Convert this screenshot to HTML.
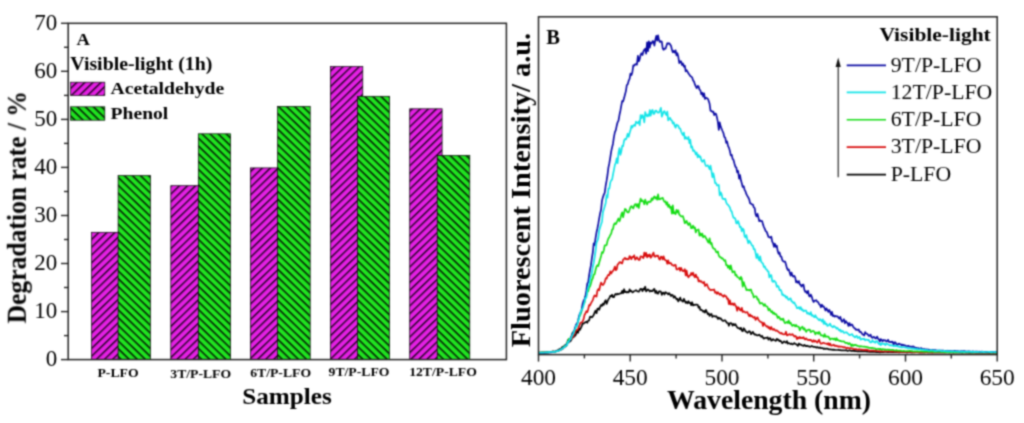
<!DOCTYPE html>
<html><head><meta charset="utf-8"><title>Figure</title>
<style>html,body{margin:0;padding:0;background:#fff;}svg{display:block;}text{font-family:"Liberation Serif",serif;fill:#000;}.b{font-weight:bold;}</style></head><body>
<svg width="1024" height="423" viewBox="0 0 1024 423">
<defs>
<pattern id="hm" width="12" height="5.6" patternUnits="userSpaceOnUse" patternTransform="rotate(-44)"><rect width="12" height="5.6" fill="#e420e4"/><rect width="12" height="1.3" fill="#0a000a"/></pattern>
<pattern id="hg" width="12" height="5.6" patternUnits="userSpaceOnUse" patternTransform="rotate(44)"><rect width="12" height="5.6" fill="#20e420"/><rect width="12" height="1.45" fill="#000a00"/></pattern>
<filter id="bl" filterUnits="userSpaceOnUse" x="0" y="0" width="1024" height="423" color-interpolation-filters="sRGB"><feConvolveMatrix order="5" kernelMatrix="0.00023 0.00332 0.00809 0.00332 0.00023 0.00332 0.04785 0.11640 0.04785 0.00332 0.00809 0.11640 0.28313 0.11640 0.00809 0.00332 0.04785 0.11640 0.04785 0.00332 0.00023 0.00332 0.00809 0.00332 0.00023" divisor="1" edgeMode="duplicate" preserveAlpha="true"/></filter>
</defs>
<g filter="url(#bl)">
<rect width="1024" height="423" fill="#fff"/>
<rect x="91.5" y="232.3" width="32.4" height="127.3" fill="url(#hm)" stroke="#000" stroke-width="0.7"/>
<rect x="118.1" y="175.6" width="32.3" height="184.0" fill="url(#hg)" stroke="#000" stroke-width="0.7"/>
<rect x="170.8" y="185.7" width="32.4" height="173.9" fill="url(#hm)" stroke="#000" stroke-width="0.7"/>
<rect x="198.3" y="133.8" width="32.3" height="225.8" fill="url(#hg)" stroke="#000" stroke-width="0.7"/>
<rect x="250.4" y="167.9" width="32.4" height="191.7" fill="url(#hm)" stroke="#000" stroke-width="0.7"/>
<rect x="277.6" y="106.4" width="32.6" height="253.2" fill="url(#hg)" stroke="#000" stroke-width="0.7"/>
<rect x="330.4" y="66.5" width="32.4" height="293.1" fill="url(#hm)" stroke="#000" stroke-width="0.7"/>
<rect x="357.6" y="96.3" width="32.0" height="263.3" fill="url(#hg)" stroke="#000" stroke-width="0.7"/>
<rect x="409.7" y="108.8" width="32.4" height="250.8" fill="url(#hm)" stroke="#000" stroke-width="0.7"/>
<rect x="437.2" y="155.4" width="32.6" height="204.2" fill="url(#hg)" stroke="#000" stroke-width="0.7"/>
<rect x="68.2" y="23.3" width="438.2" height="336.3" fill="none" stroke="#222" stroke-width="1.5"/>
<line x1="61.0" y1="359.6" x2="68.2" y2="359.6" stroke="#222" stroke-width="1.4"/>
<text transform="translate(57.2,366.2) scale(0.978,1.0)" font-size="23.5" text-anchor="end">0</text>
<line x1="64.0" y1="335.6" x2="68.2" y2="335.6" stroke="#222" stroke-width="1.4"/>
<line x1="61.0" y1="311.6" x2="68.2" y2="311.6" stroke="#222" stroke-width="1.4"/>
<text transform="translate(57.2,318.2) scale(0.978,1.0)" font-size="23.5" text-anchor="end">10</text>
<line x1="64.0" y1="287.5" x2="68.2" y2="287.5" stroke="#222" stroke-width="1.4"/>
<line x1="61.0" y1="263.5" x2="68.2" y2="263.5" stroke="#222" stroke-width="1.4"/>
<text transform="translate(57.2,270.1) scale(0.978,1.0)" font-size="23.5" text-anchor="end">20</text>
<line x1="64.0" y1="239.5" x2="68.2" y2="239.5" stroke="#222" stroke-width="1.4"/>
<line x1="61.0" y1="215.5" x2="68.2" y2="215.5" stroke="#222" stroke-width="1.4"/>
<text transform="translate(57.2,222.1) scale(0.978,1.0)" font-size="23.5" text-anchor="end">30</text>
<line x1="64.0" y1="191.5" x2="68.2" y2="191.5" stroke="#222" stroke-width="1.4"/>
<line x1="61.0" y1="167.4" x2="68.2" y2="167.4" stroke="#222" stroke-width="1.4"/>
<text transform="translate(57.2,174.0) scale(0.978,1.0)" font-size="23.5" text-anchor="end">40</text>
<line x1="64.0" y1="143.4" x2="68.2" y2="143.4" stroke="#222" stroke-width="1.4"/>
<line x1="61.0" y1="119.4" x2="68.2" y2="119.4" stroke="#222" stroke-width="1.4"/>
<text transform="translate(57.2,126.0) scale(0.978,1.0)" font-size="23.5" text-anchor="end">50</text>
<line x1="64.0" y1="95.4" x2="68.2" y2="95.4" stroke="#222" stroke-width="1.4"/>
<line x1="61.0" y1="71.3" x2="68.2" y2="71.3" stroke="#222" stroke-width="1.4"/>
<text transform="translate(57.2,77.9) scale(0.978,1.0)" font-size="23.5" text-anchor="end">60</text>
<line x1="64.0" y1="47.3" x2="68.2" y2="47.3" stroke="#222" stroke-width="1.4"/>
<line x1="61.0" y1="23.3" x2="68.2" y2="23.3" stroke="#222" stroke-width="1.4"/>
<text transform="translate(57.2,29.9) scale(0.978,1.0)" font-size="23.5" text-anchor="end">70</text>
<text class="b" transform="translate(118.0,377.0) scale(1.07,1.0)" font-size="12.8" text-anchor="middle">P-LFO</text>
<text class="b" transform="translate(200.7,378.0) scale(1.07,1.0)" font-size="12.8" text-anchor="middle">3T/P-LFO</text>
<text class="b" transform="translate(280.6,376.6) scale(1.07,1.0)" font-size="12.8" text-anchor="middle">6T/P-LFO</text>
<text class="b" transform="translate(359.0,376.2) scale(1.07,1.0)" font-size="12.8" text-anchor="middle">9T/P-LFO</text>
<text class="b" transform="translate(443.0,376.0) scale(1.07,1.0)" font-size="12.8" text-anchor="middle">12T/P-LFO</text>
<text class="b" transform="translate(287,404) scale(1.05,1.0)" font-size="24" text-anchor="middle">Samples</text>
<text class="b" transform="translate(25.8,207.2) rotate(-90) scale(0.908,1.0)" font-size="28.2" text-anchor="middle">Degradation rate / %</text>
<text class="b" transform="translate(76.5,45.2) scale(1.06,1.0)" font-size="17.5" text-anchor="start">A</text>
<text class="b" transform="translate(70.3,69.8) scale(1.079,1.0)" font-size="18.4" text-anchor="start">Visible-light (1h)</text>
<rect x="70.6" y="82.2" width="34.2" height="13.2" fill="url(#hm)" stroke="#000" stroke-width="0.7"/>
<text class="b" transform="translate(110.6,94.0) scale(1.143,1.0)" font-size="17.2" text-anchor="start">Acetaldehyde</text>
<rect x="70.6" y="106.8" width="34.2" height="13.4" fill="url(#hg)" stroke="#000" stroke-width="0.7"/>
<text class="b" transform="translate(110.6,118.6) scale(1.139,1.0)" font-size="17.2" text-anchor="start">Phenol</text>
<clipPath id="cb"><rect x="538.5" y="16.8" width="458.7" height="337.8"/></clipPath>
<g clip-path="url(#cb)" fill="none" stroke-linejoin="round" stroke-linecap="round">
<polyline points="538.5,352.7 539.4,352.7 540.3,352.8 541.3,352.6 542.2,352.6 543.1,352.4 544.0,352.5 544.9,352.4 545.9,352.5 546.8,352.3 547.7,352.3 548.6,352.1 549.5,352.0 550.5,352.0 551.4,352.1 552.3,351.6 553.2,351.3 554.1,351.9 555.1,351.6 556.0,351.2 556.9,350.8 557.8,350.2 558.7,349.7 559.7,349.0 560.6,348.9 561.5,348.1 562.4,346.9 563.3,346.7 564.3,345.9 565.2,345.1 566.1,346.0 567.0,344.4 567.9,340.1 568.9,342.1 569.8,341.6 570.7,340.8 571.6,339.3 572.5,335.7 573.5,337.3 574.4,335.4 575.3,335.7 576.2,333.6 577.1,330.6 578.1,332.8 579.0,328.6 579.9,329.9 580.8,328.2 581.7,326.1 582.7,323.2 583.6,323.7 584.5,322.7 585.4,322.5 586.3,321.6 587.3,322.8 588.2,320.5 589.1,320.5 590.0,316.8 590.9,316.7 591.9,317.3 592.8,316.4 593.7,315.0 594.6,312.6 595.5,310.7 596.5,313.2 597.4,309.0 598.3,308.3 599.2,309.8 600.1,306.9 601.1,304.9 602.0,305.9 602.9,303.6 603.8,304.8 604.7,302.0 605.7,300.2 606.6,303.9 607.5,301.5 608.4,299.3 609.3,298.2 610.3,295.9 611.2,296.3 612.1,294.8 613.0,297.2 613.9,297.2 614.9,294.6 615.8,293.9 616.7,294.7 617.6,293.7 618.5,294.1 619.5,293.7 620.4,293.3 621.3,293.3 622.2,290.8 623.1,293.2 624.1,289.2 625.0,292.2 625.9,291.6 626.8,292.5 627.7,291.8 628.7,292.4 629.6,289.4 630.5,291.2 631.4,290.8 632.3,292.4 633.3,292.0 634.2,291.0 635.1,290.7 636.0,290.2 636.9,290.9 637.9,291.5 638.8,291.7 639.7,290.3 640.6,288.8 641.5,289.0 642.5,291.2 643.4,288.5 644.3,289.5 645.2,286.7 646.1,291.4 647.1,290.3 648.0,289.4 648.9,290.1 649.8,291.5 650.7,290.6 651.7,291.2 652.6,291.1 653.5,289.5 654.4,288.9 655.3,292.9 656.3,290.9 657.2,293.5 658.1,293.6 659.0,291.4 659.9,291.3 660.9,291.6 661.8,294.9 662.7,292.8 663.6,292.6 664.5,294.5 665.5,292.2 666.4,293.0 667.3,293.3 668.2,294.4 669.1,293.1 670.1,294.4 671.0,296.0 671.9,294.8 672.8,295.2 673.7,297.7 674.7,296.1 675.6,297.7 676.5,299.4 677.4,298.8 678.3,301.5 679.3,299.3 680.2,297.6 681.1,300.5 682.0,300.6 682.9,301.6 683.9,298.9 684.8,300.9 685.7,302.8 686.6,301.9 687.5,303.3 688.5,301.2 689.4,303.0 690.3,302.8 691.2,305.2 692.1,302.2 693.1,305.5 694.0,304.7 694.9,305.0 695.8,304.6 696.7,304.7 697.7,304.8 698.6,307.7 699.5,306.7 700.4,310.0 701.3,309.8 702.3,310.4 703.2,311.8 704.1,310.8 705.0,312.6 705.9,309.9 706.9,312.0 707.8,314.2 708.7,313.3 709.6,315.9 710.5,314.5 711.5,313.9 712.4,317.0 713.3,316.0 714.2,316.0 715.1,316.6 716.1,316.2 717.0,317.1 717.9,318.9 718.8,317.6 719.7,318.6 720.7,318.3 721.6,319.7 722.5,320.6 723.4,321.0 724.3,320.4 725.3,320.3 726.2,321.9 727.1,323.0 728.0,323.1 728.9,325.8 729.9,323.3 730.8,323.0 731.7,323.7 732.6,325.5 733.5,323.9 734.5,325.2 735.4,324.1 736.3,326.0 737.2,327.4 738.1,328.2 739.1,328.2 740.0,329.1 740.9,327.8 741.8,330.6 742.7,331.2 743.7,328.2 744.6,329.2 745.5,331.4 746.4,331.8 747.3,332.8 748.3,332.0 749.2,331.2 750.1,331.8 751.0,334.2 751.9,333.1 752.9,331.8 753.8,333.6 754.7,334.7 755.6,334.3 756.5,335.2 757.5,335.4 758.4,335.2 759.3,334.6 760.2,335.8 761.1,336.8 762.1,335.8 763.0,337.6 763.9,338.7 764.8,338.0 765.7,337.9 766.7,337.9 767.6,337.3 768.5,339.7 769.4,338.3 770.3,338.2 771.3,340.6 772.2,340.2 773.1,339.1 774.0,340.0 774.9,340.3 775.9,340.9 776.8,338.9 777.7,339.9 778.6,339.7 779.5,341.2 780.5,340.7 781.4,341.8 782.3,343.2 783.2,342.3 784.1,341.3 785.1,342.2 786.0,342.7 786.9,341.1 787.8,343.6 788.7,343.0 789.7,343.6 790.6,344.1 791.5,343.5 792.4,344.5 793.3,344.0 794.3,343.0 795.2,344.0 796.1,344.1 797.0,344.9 797.9,345.8 798.9,343.5 799.8,344.7 800.7,344.4 801.6,345.1 802.5,345.5 803.5,345.9 804.4,344.8 805.3,345.7 806.2,346.2 807.1,345.6 808.1,346.3 809.0,346.3 809.9,346.8 810.8,346.6 811.7,345.9 812.7,346.4 813.6,346.9 814.5,346.9 815.4,347.0 816.3,347.7 817.3,347.1 818.2,347.6 819.1,348.0 820.0,347.3 820.9,348.1 821.9,348.1 822.8,348.1 823.7,349.0 824.6,348.4 825.5,348.9 826.5,348.6 827.4,348.7 828.3,349.1 829.2,349.5 830.1,349.3 831.1,349.6 832.0,349.5 832.9,349.9 833.8,349.7 834.7,349.8 835.7,350.0 836.6,350.0 837.5,350.0 838.4,349.9 839.3,350.1 840.3,350.0 841.2,350.5 842.1,350.2 843.0,350.5 843.9,350.3 844.9,350.5 845.8,350.2 846.7,350.4 847.6,350.9 848.5,350.7 849.5,350.3 850.4,350.7 851.3,350.8 852.2,350.8 853.1,350.7 854.1,350.8 855.0,351.3 855.9,351.0 856.8,351.3 857.7,351.3 858.7,351.1 859.6,351.3 860.5,351.3 861.4,351.2 862.3,351.4 863.3,351.4 864.2,351.5 865.1,351.5 866.0,351.5 866.9,351.6 867.9,351.5 868.8,351.8 869.7,351.8 870.6,351.8 871.5,351.8 872.5,351.9 873.4,351.9 874.3,351.8 875.2,352.0 876.1,352.2 877.1,352.2 878.0,352.1 878.9,352.0 879.8,352.4 880.7,352.1 881.7,352.1 882.6,351.9 883.5,352.1 884.4,352.0 885.3,352.0 886.3,352.0 887.2,352.1 888.1,352.1 889.0,352.1 889.9,351.8 890.9,352.1 891.8,352.0 892.7,352.1 893.6,351.9 894.5,352.2 895.5,352.1 896.4,352.1 897.3,352.1 898.2,352.1 899.1,352.3 900.1,352.1 901.0,352.0 901.9,352.1 902.8,352.2 903.7,352.1 904.7,352.2 905.6,352.2 906.5,352.3 907.4,352.4 908.3,352.1 909.3,352.2 910.2,352.2 911.1,352.3 912.0,352.4 912.9,352.3 913.9,352.2 914.8,352.2 915.7,352.1 916.6,352.2 917.5,352.2 918.5,352.2 919.4,352.3 920.3,352.4 921.2,352.2 922.1,352.3 923.1,352.3 924.0,352.1 924.9,352.4 925.8,352.2 926.7,352.1 927.7,352.3 928.6,352.3 929.5,352.4 930.4,352.3 931.3,352.4 932.3,352.4 933.2,352.4 934.1,352.4 935.0,352.2 935.9,352.4 936.9,352.4 937.8,352.4 938.7,352.4 939.6,352.4 940.5,352.5 941.5,352.4 942.4,352.3 943.3,352.5 944.2,352.4 945.1,352.4 946.1,352.4 947.0,352.2 947.9,352.2 948.8,352.4 949.7,352.5 950.7,352.5 951.6,352.3 952.5,352.5 953.4,352.6 954.3,352.3 955.3,352.4 956.2,352.3 957.1,352.4 958.0,352.3 958.9,352.4 959.9,352.5 960.8,352.5 961.7,352.6 962.6,352.6 963.5,352.5 964.5,352.3 965.4,352.5 966.3,352.5 967.2,352.4 968.1,352.6 969.1,352.5 970.0,352.6 970.9,352.6 971.8,352.7 972.7,352.4 973.7,352.4 974.6,352.5 975.5,352.6 976.4,352.7 977.3,352.6 978.3,352.6 979.2,352.7 980.1,352.6 981.0,352.6 981.9,352.7 982.9,352.7 983.8,352.6 984.7,352.7 985.6,352.6 986.5,352.6 987.5,352.6 988.4,352.7 989.3,352.8 990.2,352.7 991.1,352.7 992.1,352.7 993.0,352.6 993.9,352.7 994.8,352.7 995.7,352.7 996.7,352.7" stroke="#000000" stroke-width="1.7"/>
<polyline points="538.5,352.8 539.4,352.8 540.3,352.7 541.3,352.7 542.2,352.5 543.1,352.6 544.0,352.4 544.9,352.4 545.9,352.4 546.8,352.4 547.7,352.2 548.6,352.1 549.5,352.0 550.5,351.9 551.4,352.2 552.3,351.7 553.2,351.8 554.1,351.8 555.1,351.5 556.0,351.1 556.9,351.2 557.8,351.1 558.7,350.7 559.7,349.8 560.6,349.6 561.5,349.3 562.4,349.2 563.3,347.8 564.3,347.0 565.2,346.6 566.1,344.6 567.0,343.8 567.9,341.6 568.9,341.5 569.8,340.0 570.7,338.9 571.6,338.7 572.5,337.3 573.5,335.8 574.4,333.8 575.3,332.1 576.2,330.0 577.1,330.2 578.1,328.9 579.0,326.4 579.9,324.2 580.8,322.5 581.7,322.5 582.7,321.3 583.6,319.1 584.5,315.0 585.4,313.5 586.3,311.2 587.3,312.2 588.2,309.2 589.1,305.2 590.0,305.4 590.9,303.4 591.9,301.6 592.8,300.1 593.7,297.2 594.6,295.3 595.5,296.0 596.5,296.5 597.4,290.6 598.3,289.1 599.2,290.3 600.1,286.0 601.1,282.5 602.0,284.4 602.9,285.1 603.8,283.9 604.7,282.1 605.7,278.4 606.6,278.6 607.5,276.1 608.4,274.7 609.3,275.1 610.3,271.4 611.2,273.5 612.1,271.8 613.0,270.9 613.9,269.5 614.9,266.6 615.8,270.2 616.7,269.3 617.6,264.5 618.5,263.8 619.5,262.3 620.4,262.0 621.3,263.1 622.2,263.4 623.1,259.7 624.1,258.9 625.0,257.9 625.9,259.4 626.8,258.6 627.7,259.3 628.7,259.2 629.6,256.0 630.5,257.1 631.4,259.2 632.3,256.9 633.3,257.1 634.2,255.3 635.1,259.7 636.0,258.6 636.9,257.2 637.9,258.9 638.8,259.9 639.7,259.8 640.6,256.3 641.5,256.6 642.5,257.1 643.4,258.1 644.3,252.7 645.2,256.0 646.1,252.9 647.1,257.4 648.0,254.9 648.9,256.3 649.8,254.5 650.7,257.8 651.7,256.5 652.6,254.3 653.5,252.6 654.4,256.5 655.3,256.8 656.3,255.6 657.2,256.1 658.1,255.6 659.0,258.9 659.9,259.7 660.9,256.7 661.8,256.8 662.7,259.5 663.6,256.4 664.5,259.3 665.5,260.3 666.4,260.6 667.3,263.7 668.2,260.4 669.1,263.4 670.1,263.1 671.0,263.2 671.9,265.0 672.8,265.0 673.7,265.9 674.7,265.0 675.6,264.9 676.5,269.3 677.4,269.5 678.3,268.9 679.3,267.8 680.2,270.8 681.1,267.8 682.0,270.0 682.9,271.1 683.9,271.0 684.8,269.2 685.7,275.5 686.6,270.7 687.5,275.7 688.5,277.4 689.4,275.5 690.3,275.4 691.2,273.0 692.1,274.9 693.1,272.7 694.0,275.8 694.9,277.3 695.8,274.5 696.7,277.3 697.7,277.3 698.6,281.5 699.5,280.4 700.4,281.7 701.3,281.2 702.3,282.6 703.2,283.1 704.1,282.0 705.0,286.0 705.9,284.9 706.9,284.2 707.8,286.5 708.7,288.4 709.6,289.3 710.5,290.2 711.5,289.9 712.4,289.9 713.3,290.0 714.2,289.4 715.1,292.8 716.1,292.1 717.0,293.9 717.9,292.2 718.8,293.4 719.7,294.8 720.7,293.6 721.6,295.2 722.5,295.6 723.4,296.8 724.3,295.1 725.3,296.1 726.2,296.4 727.1,298.8 728.0,298.5 728.9,304.2 729.9,300.4 730.8,304.5 731.7,304.3 732.6,303.4 733.5,305.0 734.5,303.5 735.4,305.5 736.3,306.8 737.2,310.7 738.1,307.2 739.1,308.2 740.0,310.0 740.9,310.5 741.8,307.8 742.7,312.0 743.7,311.4 744.6,311.7 745.5,312.7 746.4,312.3 747.3,312.0 748.3,314.3 749.2,316.2 750.1,314.5 751.0,316.3 751.9,315.8 752.9,317.3 753.8,317.7 754.7,316.9 755.6,319.9 756.5,318.3 757.5,317.4 758.4,319.7 759.3,320.7 760.2,321.8 761.1,322.0 762.1,322.5 763.0,326.0 763.9,322.8 764.8,324.4 765.7,325.6 766.7,326.6 767.6,326.2 768.5,328.0 769.4,327.2 770.3,329.4 771.3,327.0 772.2,329.2 773.1,329.8 774.0,328.9 774.9,330.1 775.9,330.9 776.8,330.3 777.7,331.1 778.6,332.0 779.5,332.7 780.5,333.5 781.4,332.8 782.3,333.9 783.2,334.2 784.1,334.5 785.1,334.1 786.0,331.7 786.9,335.4 787.8,334.9 788.7,334.6 789.7,334.1 790.6,334.9 791.5,334.7 792.4,334.2 793.3,335.1 794.3,336.6 795.2,335.8 796.1,336.6 797.0,339.1 797.9,337.3 798.9,338.4 799.8,336.9 800.7,338.2 801.6,337.6 802.5,338.2 803.5,337.2 804.4,338.9 805.3,339.4 806.2,338.3 807.1,339.3 808.1,340.1 809.0,339.8 809.9,340.3 810.8,339.8 811.7,341.0 812.7,341.8 813.6,340.2 814.5,341.7 815.4,340.7 816.3,341.7 817.3,342.6 818.2,341.0 819.1,339.7 820.0,342.4 820.9,343.8 821.9,343.5 822.8,342.8 823.7,342.8 824.6,343.4 825.5,343.5 826.5,343.7 827.4,344.3 828.3,343.1 829.2,345.2 830.1,343.5 831.1,345.6 832.0,345.4 832.9,345.1 833.8,344.7 834.7,346.0 835.7,345.6 836.6,346.1 837.5,346.0 838.4,346.8 839.3,346.4 840.3,346.8 841.2,346.5 842.1,346.8 843.0,347.1 843.9,347.4 844.9,347.1 845.8,347.7 846.7,348.3 847.6,347.7 848.5,348.0 849.5,348.4 850.4,348.2 851.3,348.4 852.2,348.4 853.1,348.7 854.1,349.2 855.0,349.0 855.9,349.1 856.8,349.4 857.7,349.6 858.7,349.4 859.6,349.4 860.5,349.7 861.4,349.5 862.3,349.9 863.3,349.8 864.2,350.2 865.1,349.7 866.0,350.3 866.9,349.9 867.9,350.1 868.8,350.9 869.7,350.5 870.6,350.8 871.5,350.6 872.5,350.7 873.4,350.6 874.3,350.9 875.2,350.9 876.1,350.8 877.1,351.0 878.0,351.0 878.9,351.3 879.8,351.2 880.7,351.4 881.7,351.1 882.6,351.4 883.5,351.5 884.4,351.2 885.3,351.3 886.3,351.4 887.2,351.5 888.1,351.2 889.0,351.3 889.9,351.5 890.9,351.3 891.8,351.6 892.7,351.5 893.6,351.4 894.5,351.7 895.5,351.7 896.4,351.5 897.3,351.8 898.2,351.7 899.1,351.8 900.1,352.0 901.0,351.7 901.9,351.9 902.8,351.8 903.7,351.8 904.7,352.0 905.6,352.0 906.5,351.9 907.4,352.0 908.3,351.9 909.3,351.8 910.2,352.0 911.1,352.0 912.0,352.2 912.9,351.7 913.9,352.3 914.8,352.3 915.7,352.2 916.6,352.2 917.5,352.1 918.5,352.5 919.4,352.1 920.3,352.3 921.2,352.4 922.1,352.2 923.1,352.3 924.0,352.4 924.9,352.3 925.8,352.5 926.7,352.5 927.7,352.1 928.6,352.3 929.5,352.5 930.4,352.3 931.3,352.5 932.3,352.6 933.2,352.4 934.1,352.4 935.0,352.2 935.9,352.3 936.9,352.3 937.8,352.4 938.7,352.3 939.6,352.3 940.5,352.3 941.5,352.4 942.4,352.5 943.3,352.4 944.2,352.4 945.1,352.4 946.1,352.5 947.0,352.4 947.9,352.5 948.8,352.4 949.7,352.3 950.7,352.3 951.6,352.4 952.5,352.5 953.4,352.5 954.3,352.5 955.3,352.4 956.2,352.4 957.1,352.4 958.0,352.4 958.9,352.5 959.9,352.5 960.8,352.5 961.7,352.4 962.6,352.5 963.5,352.4 964.5,352.5 965.4,352.5 966.3,352.6 967.2,352.5 968.1,352.4 969.1,352.4 970.0,352.6 970.9,352.4 971.8,352.4 972.7,352.4 973.7,352.7 974.6,352.6 975.5,352.6 976.4,352.5 977.3,352.7 978.3,352.6 979.2,352.6 980.1,352.4 981.0,352.5 981.9,352.6 982.9,352.6 983.8,352.5 984.7,352.6 985.6,352.5 986.5,352.4 987.5,352.6 988.4,352.6 989.3,352.6 990.2,352.7 991.1,352.5 992.1,352.5 993.0,352.7 993.9,352.6 994.8,352.5 995.7,352.5 996.7,352.7" stroke="#d80c0c" stroke-width="1.7"/>
<polyline points="538.5,352.8 539.4,352.7 540.3,352.6 541.3,352.7 542.2,352.4 543.1,352.7 544.0,352.5 544.9,352.5 545.9,352.4 546.8,352.4 547.7,352.2 548.6,352.3 549.5,352.2 550.5,352.1 551.4,351.9 552.3,352.1 553.2,351.8 554.1,351.7 555.1,351.6 556.0,351.5 556.9,350.9 557.8,351.0 558.7,350.5 559.7,349.8 560.6,349.8 561.5,349.2 562.4,348.3 563.3,347.2 564.3,346.4 565.2,345.3 566.1,345.7 567.0,342.6 567.9,342.5 568.9,338.7 569.8,339.3 570.7,338.7 571.6,335.8 572.5,332.7 573.5,332.1 574.4,330.9 575.3,328.1 576.2,325.8 577.1,323.7 578.1,321.0 579.0,317.2 579.9,316.0 580.8,313.7 581.7,310.7 582.7,305.6 583.6,303.9 584.5,303.0 585.4,296.6 586.3,296.1 587.3,292.0 588.2,291.3 589.1,287.5 590.0,286.4 590.9,283.7 591.9,279.7 592.8,278.2 593.7,274.7 594.6,274.2 595.5,270.3 596.5,266.5 597.4,265.2 598.3,266.0 599.2,262.6 600.1,259.6 601.1,256.0 602.0,252.2 602.9,252.9 603.8,250.5 604.7,245.3 605.7,245.4 606.6,245.0 607.5,241.0 608.4,238.5 609.3,237.2 610.3,235.0 611.2,233.6 612.1,229.7 613.0,229.0 613.9,224.5 614.9,223.2 615.8,224.1 616.7,222.5 617.6,220.3 618.5,218.5 619.5,221.3 620.4,218.4 621.3,214.6 622.2,212.3 623.1,217.2 624.1,212.9 625.0,208.9 625.9,209.4 626.8,211.5 627.7,212.3 628.7,212.3 629.6,209.7 630.5,207.0 631.4,206.1 632.3,207.4 633.3,208.4 634.2,205.8 635.1,204.3 636.0,204.0 636.9,206.7 637.9,204.1 638.8,208.0 639.7,202.9 640.6,198.6 641.5,201.2 642.5,200.4 643.4,201.8 644.3,204.3 645.2,199.7 646.1,202.3 647.1,204.5 648.0,202.1 648.9,201.6 649.8,201.8 650.7,201.8 651.7,198.3 652.6,200.0 653.5,197.6 654.4,196.5 655.3,198.5 656.3,197.1 657.2,199.6 658.1,194.3 659.0,199.3 659.9,199.2 660.9,198.6 661.8,198.2 662.7,197.9 663.6,200.3 664.5,201.9 665.5,201.3 666.4,204.6 667.3,202.4 668.2,206.9 669.1,204.8 670.1,207.9 671.0,206.8 671.9,213.7 672.8,205.3 673.7,213.4 674.7,212.4 675.6,214.2 676.5,209.8 677.4,212.4 678.3,210.4 679.3,214.7 680.2,215.4 681.1,216.4 682.0,216.5 682.9,216.1 683.9,219.4 684.8,223.2 685.7,221.9 686.6,220.8 687.5,223.8 688.5,225.0 689.4,223.0 690.3,224.5 691.2,228.2 692.1,228.1 693.1,225.7 694.0,228.0 694.9,227.4 695.8,232.5 696.7,230.0 697.7,230.0 698.6,229.5 699.5,235.7 700.4,233.4 701.3,235.6 702.3,233.6 703.2,237.3 704.1,236.2 705.0,236.0 705.9,238.1 706.9,239.5 707.8,241.6 708.7,242.7 709.6,238.3 710.5,243.9 711.5,242.8 712.4,246.6 713.3,248.4 714.2,248.7 715.1,249.2 716.1,252.0 717.0,252.4 717.9,251.5 718.8,255.6 719.7,256.9 720.7,257.1 721.6,258.5 722.5,258.2 723.4,259.4 724.3,260.9 725.3,260.2 726.2,265.2 727.1,265.0 728.0,267.7 728.9,265.7 729.9,269.3 730.8,265.4 731.7,269.3 732.6,272.4 733.5,271.6 734.5,271.3 735.4,275.4 736.3,274.7 737.2,276.8 738.1,277.3 739.1,278.1 740.0,279.5 740.9,276.9 741.8,278.7 742.7,286.6 743.7,282.1 744.6,285.0 745.5,287.0 746.4,290.1 747.3,289.7 748.3,289.9 749.2,290.5 750.1,289.7 751.0,289.5 751.9,292.8 752.9,294.1 753.8,297.5 754.7,296.5 755.6,296.4 756.5,296.6 757.5,299.6 758.4,299.2 759.3,302.2 760.2,303.7 761.1,303.0 762.1,303.1 763.0,304.2 763.9,305.9 764.8,304.1 765.7,306.0 766.7,306.3 767.6,307.1 768.5,310.4 769.4,308.8 770.3,310.3 771.3,312.2 772.2,311.2 773.1,313.7 774.0,312.6 774.9,314.4 775.9,314.0 776.8,315.2 777.7,318.0 778.6,316.6 779.5,317.6 780.5,319.6 781.4,319.0 782.3,319.9 783.2,318.6 784.1,321.6 785.1,323.2 786.0,322.5 786.9,321.9 787.8,323.0 788.7,320.5 789.7,323.4 790.6,322.6 791.5,324.8 792.4,325.9 793.3,324.9 794.3,325.1 795.2,326.4 796.1,324.9 797.0,326.5 797.9,326.5 798.9,327.0 799.8,330.3 800.7,328.2 801.6,327.5 802.5,326.7 803.5,329.4 804.4,328.2 805.3,330.3 806.2,331.9 807.1,330.1 808.1,329.9 809.0,329.6 809.9,329.8 810.8,332.2 811.7,331.4 812.7,330.9 813.6,331.0 814.5,332.1 815.4,334.4 816.3,332.5 817.3,332.5 818.2,333.9 819.1,331.9 820.0,333.3 820.9,335.3 821.9,335.3 822.8,335.5 823.7,336.9 824.6,334.1 825.5,336.7 826.5,336.4 827.4,336.7 828.3,336.5 829.2,338.0 830.1,339.7 831.1,338.5 832.0,338.8 832.9,338.6 833.8,339.5 834.7,338.5 835.7,340.4 836.6,338.2 837.5,340.1 838.4,340.1 839.3,340.9 840.3,340.9 841.2,341.3 842.1,341.4 843.0,341.5 843.9,341.4 844.9,342.5 845.8,343.1 846.7,342.8 847.6,343.1 848.5,344.2 849.5,343.1 850.4,344.0 851.3,346.0 852.2,344.4 853.1,345.8 854.1,344.8 855.0,345.3 855.9,344.9 856.8,345.6 857.7,345.9 858.7,346.1 859.6,346.6 860.5,346.2 861.4,346.3 862.3,346.5 863.3,346.8 864.2,346.5 865.1,346.9 866.0,346.8 866.9,347.3 867.9,347.2 868.8,347.8 869.7,347.8 870.6,347.8 871.5,348.1 872.5,347.8 873.4,348.4 874.3,348.3 875.2,348.5 876.1,349.3 877.1,349.0 878.0,348.9 878.9,348.9 879.8,349.3 880.7,348.9 881.7,349.8 882.6,349.1 883.5,349.4 884.4,349.8 885.3,349.4 886.3,350.0 887.2,349.6 888.1,349.7 889.0,349.9 889.9,349.7 890.9,350.0 891.8,349.8 892.7,349.9 893.6,350.1 894.5,350.5 895.5,350.6 896.4,350.0 897.3,350.6 898.2,350.5 899.1,350.8 900.1,350.5 901.0,350.7 901.9,351.1 902.8,351.0 903.7,350.7 904.7,351.0 905.6,351.3 906.5,351.0 907.4,351.0 908.3,351.2 909.3,350.9 910.2,350.8 911.1,351.0 912.0,351.2 912.9,351.4 913.9,351.5 914.8,351.3 915.7,351.5 916.6,351.4 917.5,351.3 918.5,351.7 919.4,351.5 920.3,351.5 921.2,351.4 922.1,351.3 923.1,351.7 924.0,351.7 924.9,351.7 925.8,351.7 926.7,351.5 927.7,351.6 928.6,351.7 929.5,351.9 930.4,351.6 931.3,351.7 932.3,351.6 933.2,351.8 934.1,351.9 935.0,351.8 935.9,351.9 936.9,351.8 937.8,351.9 938.7,352.0 939.6,352.0 940.5,352.0 941.5,352.1 942.4,352.0 943.3,352.0 944.2,352.3 945.1,352.1 946.1,352.1 947.0,352.3 947.9,352.1 948.8,352.3 949.7,352.2 950.7,352.3 951.6,352.1 952.5,352.2 953.4,352.4 954.3,352.4 955.3,352.3 956.2,352.3 957.1,352.3 958.0,352.5 958.9,352.5 959.9,352.3 960.8,352.3 961.7,352.4 962.6,352.3 963.5,352.5 964.5,352.2 965.4,352.3 966.3,352.4 967.2,352.4 968.1,352.2 969.1,352.4 970.0,352.5 970.9,352.3 971.8,352.3 972.7,352.6 973.7,352.4 974.6,352.3 975.5,352.3 976.4,352.5 977.3,352.5 978.3,352.3 979.2,352.3 980.1,352.2 981.0,352.5 981.9,352.2 982.9,352.4 983.8,352.5 984.7,352.4 985.6,352.5 986.5,352.5 987.5,352.3 988.4,352.4 989.3,352.4 990.2,352.4 991.1,352.5 992.1,352.6 993.0,352.5 993.9,352.5 994.8,352.5 995.7,352.6 996.7,352.6" stroke="#14dc14" stroke-width="1.7"/>
<polyline points="538.5,352.9 539.4,352.8 540.3,352.8 541.3,352.7 542.2,352.8 543.1,352.8 544.0,352.8 544.9,352.6 545.9,352.6 546.8,352.6 547.7,352.3 548.6,352.6 549.5,352.4 550.5,352.3 551.4,352.3 552.3,352.0 553.2,351.9 554.1,351.9 555.1,351.7 556.0,351.3 556.9,350.9 557.8,351.0 558.7,350.6 559.7,349.9 560.6,349.9 561.5,349.3 562.4,348.6 563.3,347.7 564.3,347.0 565.2,346.3 566.1,344.5 567.0,344.6 567.9,342.4 568.9,341.1 569.8,340.5 570.7,337.8 571.6,336.3 572.5,333.5 573.5,332.0 574.4,330.0 575.3,327.0 576.2,324.4 577.1,323.6 578.1,321.1 579.0,316.1 579.9,313.4 580.8,312.1 581.7,309.4 582.7,303.4 583.6,300.7 584.5,299.1 585.4,296.3 586.3,290.9 587.3,283.5 588.2,282.3 589.1,275.4 590.0,269.8 590.9,265.4 591.9,257.8 592.8,252.5 593.7,243.4 594.6,245.1 595.5,238.3 596.5,232.3 597.4,228.4 598.3,223.7 599.2,218.3 600.1,213.4 601.1,209.5 602.0,200.6 602.9,197.2 603.8,194.6 604.7,192.8 605.7,185.5 606.6,180.7 607.5,175.0 608.4,167.6 609.3,163.4 610.3,157.4 611.2,151.4 612.1,147.4 613.0,143.7 613.9,137.2 614.9,132.2 615.8,130.2 616.7,125.8 617.6,122.3 618.5,120.7 619.5,114.8 620.4,110.7 621.3,105.6 622.2,101.0 623.1,101.4 624.1,98.1 625.0,94.5 625.9,91.1 626.8,85.1 627.7,84.3 628.7,80.7 629.6,78.9 630.5,73.5 631.4,75.1 632.3,72.5 633.3,65.3 634.2,65.7 635.1,64.3 636.0,64.1 636.9,64.7 637.9,55.8 638.8,61.4 639.7,59.1 640.6,54.8 641.5,53.3 642.5,55.0 643.4,51.5 644.3,49.7 645.2,48.7 646.1,53.7 647.1,42.4 648.0,51.2 648.9,41.4 649.8,47.6 650.7,42.7 651.7,43.5 652.6,41.1 653.5,41.5 654.4,45.6 655.3,39.8 656.3,35.9 657.2,40.7 658.1,35.3 659.0,40.1 659.9,42.0 660.9,41.1 661.8,41.7 662.7,48.3 663.6,49.8 664.5,48.5 665.5,48.7 666.4,45.9 667.3,43.2 668.2,43.7 669.1,43.2 670.1,44.4 671.0,45.7 671.9,49.4 672.8,52.3 673.7,50.8 674.7,52.7 675.6,50.4 676.5,55.3 677.4,53.2 678.3,56.8 679.3,63.2 680.2,61.3 681.1,61.4 682.0,65.0 682.9,63.4 683.9,66.7 684.8,65.6 685.7,71.3 686.6,70.1 687.5,71.7 688.5,73.5 689.4,74.6 690.3,76.0 691.2,76.6 692.1,77.3 693.1,80.4 694.0,81.6 694.9,84.4 695.8,86.4 696.7,88.2 697.7,86.0 698.6,86.4 699.5,89.7 700.4,90.4 701.3,94.3 702.3,92.8 703.2,96.6 704.1,93.3 705.0,99.0 705.9,97.9 706.9,98.1 707.8,98.7 708.7,100.9 709.6,103.8 710.5,110.6 711.5,111.0 712.4,111.8 713.3,111.5 714.2,115.1 715.1,113.5 716.1,114.0 717.0,117.7 717.9,122.2 718.8,130.0 719.7,122.4 720.7,126.6 721.6,128.8 722.5,131.0 723.4,133.0 724.3,136.9 725.3,137.9 726.2,142.8 727.1,141.4 728.0,145.8 728.9,147.6 729.9,151.0 730.8,155.4 731.7,154.8 732.6,158.9 733.5,159.9 734.5,163.8 735.4,166.8 736.3,167.5 737.2,172.4 738.1,170.9 739.1,178.7 740.0,175.0 740.9,180.3 741.8,183.3 742.7,187.0 743.7,186.2 744.6,189.8 745.5,191.4 746.4,194.2 747.3,195.9 748.3,197.5 749.2,199.3 750.1,203.2 751.0,203.6 751.9,204.4 752.9,204.6 753.8,207.4 754.7,208.1 755.6,214.3 756.5,216.3 757.5,213.9 758.4,217.5 759.3,221.2 760.2,220.3 761.1,221.1 762.1,221.0 763.0,224.4 763.9,227.0 764.8,228.9 765.7,231.1 766.7,231.9 767.6,234.4 768.5,237.0 769.4,237.1 770.3,237.7 771.3,236.6 772.2,241.6 773.1,243.2 774.0,246.8 774.9,243.7 775.9,246.9 776.8,245.7 777.7,251.1 778.6,253.8 779.5,252.4 780.5,256.5 781.4,256.7 782.3,260.1 783.2,261.2 784.1,261.6 785.1,261.6 786.0,264.5 786.9,268.1 787.8,270.0 788.7,269.3 789.7,272.5 790.6,275.6 791.5,272.5 792.4,275.6 793.3,276.7 794.3,275.9 795.2,277.4 796.1,282.3 797.0,281.1 797.9,282.8 798.9,281.1 799.8,284.3 800.7,285.0 801.6,286.7 802.5,284.8 803.5,284.6 804.4,289.9 805.3,291.9 806.2,291.5 807.1,293.3 808.1,290.9 809.0,295.9 809.9,296.5 810.8,294.6 811.7,296.6 812.7,300.1 813.6,302.0 814.5,300.6 815.4,300.7 816.3,300.1 817.3,301.9 818.2,302.0 819.1,304.2 820.0,304.7 820.9,307.3 821.9,304.7 822.8,306.6 823.7,306.4 824.6,308.1 825.5,310.5 826.5,308.3 827.4,310.2 828.3,311.9 829.2,309.9 830.1,311.8 831.1,315.0 832.0,311.9 832.9,316.2 833.8,315.5 834.7,316.7 835.7,315.9 836.6,316.5 837.5,316.3 838.4,317.6 839.3,318.6 840.3,316.8 841.2,320.1 842.1,321.8 843.0,320.5 843.9,319.1 844.9,323.3 845.8,321.1 846.7,322.4 847.6,322.9 848.5,326.0 849.5,323.0 850.4,325.5 851.3,324.7 852.2,324.7 853.1,326.7 854.1,327.9 855.0,328.5 855.9,329.9 856.8,329.4 857.7,329.9 858.7,329.4 859.6,332.0 860.5,331.7 861.4,332.6 862.3,334.2 863.3,334.6 864.2,335.5 865.1,332.1 866.0,333.4 866.9,333.7 867.9,334.6 868.8,335.9 869.7,335.6 870.6,334.7 871.5,337.3 872.5,337.8 873.4,336.9 874.3,337.0 875.2,338.3 876.1,338.4 877.1,336.6 878.0,338.7 878.9,339.4 879.8,341.4 880.7,339.1 881.7,340.0 882.6,341.3 883.5,340.0 884.4,340.5 885.3,340.2 886.3,341.5 887.2,341.0 888.1,339.8 889.0,341.9 889.9,341.9 890.9,342.2 891.8,341.6 892.7,341.9 893.6,344.6 894.5,342.3 895.5,342.3 896.4,344.3 897.3,344.8 898.2,344.0 899.1,343.5 900.1,344.5 901.0,344.3 901.9,345.5 902.8,344.6 903.7,345.2 904.7,345.4 905.6,345.6 906.5,346.4 907.4,346.0 908.3,345.8 909.3,346.5 910.2,346.6 911.1,346.6 912.0,347.1 912.9,346.4 913.9,346.8 914.8,347.6 915.7,347.9 916.6,347.8 917.5,348.4 918.5,348.2 919.4,349.0 920.3,348.4 921.2,348.2 922.1,348.8 923.1,349.0 924.0,349.1 924.9,349.2 925.8,349.5 926.7,349.3 927.7,349.7 928.6,349.7 929.5,349.8 930.4,350.1 931.3,350.1 932.3,350.1 933.2,349.8 934.1,350.2 935.0,350.0 935.9,350.2 936.9,350.5 937.8,350.6 938.7,350.5 939.6,350.5 940.5,350.6 941.5,350.7 942.4,350.5 943.3,350.5 944.2,350.8 945.1,350.9 946.1,350.9 947.0,351.2 947.9,350.7 948.8,351.0 949.7,350.8 950.7,351.1 951.6,351.2 952.5,351.0 953.4,351.1 954.3,350.8 955.3,350.8 956.2,351.3 957.1,351.2 958.0,351.2 958.9,351.3 959.9,351.7 960.8,351.1 961.7,351.5 962.6,351.1 963.5,351.1 964.5,351.2 965.4,351.3 966.3,351.6 967.2,351.7 968.1,351.4 969.1,351.4 970.0,351.6 970.9,351.5 971.8,351.9 972.7,351.4 973.7,351.5 974.6,351.8 975.5,351.5 976.4,351.6 977.3,351.7 978.3,351.8 979.2,351.7 980.1,351.8 981.0,351.8 981.9,351.6 982.9,351.8 983.8,351.9 984.7,351.9 985.6,351.8 986.5,352.0 987.5,352.0 988.4,352.2 989.3,351.9 990.2,352.1 991.1,352.1 992.1,351.9 993.0,352.0 993.9,352.2 994.8,352.1 995.7,352.1 996.7,352.2" stroke="#0a0aa2" stroke-width="1.7"/>
<polyline points="538.5,352.8 539.4,352.8 540.3,352.7 541.3,352.6 542.2,352.6 543.1,352.7 544.0,352.5 544.9,352.3 545.9,352.3 546.8,352.3 547.7,352.4 548.6,352.2 549.5,352.1 550.5,352.0 551.4,352.0 552.3,351.8 553.2,351.8 554.1,351.8 555.1,351.8 556.0,351.4 556.9,351.4 557.8,350.8 558.7,350.8 559.7,350.2 560.6,349.6 561.5,349.1 562.4,348.7 563.3,347.6 564.3,347.2 565.2,346.5 566.1,345.5 567.0,345.0 567.9,341.7 568.9,341.6 569.8,339.3 570.7,339.1 571.6,336.8 572.5,335.1 573.5,333.4 574.4,330.4 575.3,328.8 576.2,325.6 577.1,326.0 578.1,320.9 579.0,318.7 579.9,314.0 580.8,311.6 581.7,309.5 582.7,308.5 583.6,305.6 584.5,302.0 585.4,297.8 586.3,297.8 587.3,290.6 588.2,287.2 589.1,285.3 590.0,279.1 590.9,276.6 591.9,273.2 592.8,267.0 593.7,263.0 594.6,257.6 595.5,251.6 596.5,242.6 597.4,240.9 598.3,238.1 599.2,230.5 600.1,227.6 601.1,224.3 602.0,221.7 602.9,212.3 603.8,209.4 604.7,206.5 605.7,202.9 606.6,195.2 607.5,197.6 608.4,188.5 609.3,188.6 610.3,182.5 611.2,180.3 612.1,179.6 613.0,174.5 613.9,170.2 614.9,164.9 615.8,162.8 616.7,158.4 617.6,163.1 618.5,152.8 619.5,148.1 620.4,154.8 621.3,151.7 622.2,145.8 623.1,146.2 624.1,140.5 625.0,139.0 625.9,139.4 626.8,137.3 627.7,133.7 628.7,136.7 629.6,133.1 630.5,130.3 631.4,125.9 632.3,127.6 633.3,125.4 634.2,124.9 635.1,125.8 636.0,121.7 636.9,122.8 637.9,123.1 638.8,121.3 639.7,125.1 640.6,115.0 641.5,118.3 642.5,115.0 643.4,117.0 644.3,122.4 645.2,112.1 646.1,114.7 647.1,116.4 648.0,114.6 648.9,116.1 649.8,110.0 650.7,115.6 651.7,110.8 652.6,110.0 653.5,114.0 654.4,113.7 655.3,110.8 656.3,110.6 657.2,112.1 658.1,112.7 659.0,112.4 659.9,110.6 660.9,107.8 661.8,116.7 662.7,114.4 663.6,111.5 664.5,111.2 665.5,113.8 666.4,115.0 667.3,111.6 668.2,120.4 669.1,118.8 670.1,117.8 671.0,120.1 671.9,120.6 672.8,123.4 673.7,122.3 674.7,125.9 675.6,127.7 676.5,124.6 677.4,125.5 678.3,125.7 679.3,128.5 680.2,128.6 681.1,131.5 682.0,133.5 682.9,135.2 683.9,132.6 684.8,138.9 685.7,137.0 686.6,138.7 687.5,139.0 688.5,136.9 689.4,143.2 690.3,139.9 691.2,147.6 692.1,146.4 693.1,151.0 694.0,150.3 694.9,151.7 695.8,154.5 696.7,152.6 697.7,157.3 698.6,155.0 699.5,157.1 700.4,156.4 701.3,160.3 702.3,161.8 703.2,160.5 704.1,160.0 705.0,163.8 705.9,166.0 706.9,165.9 707.8,165.3 708.7,167.0 709.6,169.2 710.5,165.6 711.5,171.4 712.4,177.2 713.3,173.3 714.2,177.3 715.1,183.1 716.1,183.1 717.0,185.5 717.9,185.4 718.8,185.0 719.7,195.5 720.7,192.3 721.6,194.1 722.5,198.7 723.4,198.9 724.3,199.3 725.3,198.8 726.2,202.4 727.1,204.1 728.0,204.8 728.9,206.1 729.9,207.5 730.8,210.7 731.7,211.5 732.6,214.9 733.5,217.7 734.5,217.9 735.4,219.0 736.3,223.4 737.2,223.3 738.1,221.0 739.1,224.0 740.0,227.2 740.9,226.8 741.8,231.3 742.7,228.5 743.7,229.8 744.6,236.4 745.5,237.3 746.4,235.1 747.3,239.6 748.3,243.3 749.2,240.6 750.1,242.0 751.0,243.5 751.9,245.4 752.9,245.7 753.8,249.2 754.7,249.1 755.6,253.0 756.5,258.0 757.5,254.0 758.4,258.6 759.3,260.5 760.2,256.3 761.1,261.6 762.1,262.8 763.0,263.7 763.9,266.9 764.8,266.4 765.7,269.0 766.7,269.3 767.6,271.1 768.5,271.5 769.4,277.5 770.3,275.4 771.3,275.2 772.2,281.1 773.1,281.9 774.0,280.7 774.9,281.4 775.9,282.7 776.8,286.8 777.7,286.0 778.6,286.7 779.5,290.1 780.5,289.8 781.4,291.2 782.3,295.0 783.2,294.5 784.1,295.9 785.1,295.7 786.0,297.7 786.9,296.6 787.8,298.9 788.7,299.8 789.7,298.7 790.6,298.3 791.5,301.5 792.4,301.4 793.3,303.1 794.3,302.4 795.2,304.5 796.1,305.8 797.0,308.2 797.9,308.2 798.9,307.1 799.8,309.0 800.7,307.1 801.6,309.9 802.5,309.3 803.5,311.3 804.4,310.7 805.3,310.6 806.2,310.7 807.1,313.6 808.1,312.8 809.0,314.1 809.9,314.4 810.8,312.1 811.7,315.7 812.7,315.1 813.6,316.6 814.5,317.2 815.4,315.2 816.3,317.4 817.3,318.2 818.2,319.2 819.1,320.3 820.0,319.1 820.9,320.1 821.9,321.5 822.8,319.4 823.7,323.8 824.6,321.4 825.5,324.3 826.5,323.6 827.4,325.9 828.3,325.5 829.2,324.9 830.1,323.6 831.1,326.0 832.0,326.6 832.9,327.3 833.8,325.9 834.7,326.8 835.7,327.3 836.6,328.7 837.5,328.0 838.4,329.2 839.3,330.6 840.3,329.7 841.2,331.8 842.1,331.2 843.0,331.1 843.9,332.8 844.9,332.6 845.8,332.3 846.7,332.4 847.6,333.4 848.5,334.1 849.5,335.2 850.4,334.9 851.3,334.4 852.2,334.2 853.1,335.9 854.1,336.4 855.0,337.4 855.9,336.2 856.8,335.9 857.7,338.0 858.7,337.4 859.6,336.8 860.5,339.6 861.4,339.2 862.3,338.8 863.3,339.2 864.2,338.7 865.1,340.4 866.0,339.5 866.9,339.7 867.9,340.2 868.8,339.8 869.7,341.8 870.6,342.5 871.5,342.1 872.5,340.2 873.4,341.8 874.3,341.8 875.2,342.8 876.1,341.1 877.1,341.3 878.0,342.8 878.9,344.0 879.8,343.3 880.7,345.2 881.7,343.1 882.6,343.9 883.5,343.9 884.4,343.6 885.3,345.2 886.3,343.6 887.2,343.9 888.1,344.5 889.0,344.8 889.9,345.5 890.9,345.1 891.8,345.6 892.7,345.4 893.6,346.1 894.5,345.8 895.5,346.1 896.4,345.6 897.3,346.5 898.2,346.2 899.1,346.9 900.1,346.9 901.0,347.1 901.9,347.4 902.8,347.3 903.7,347.0 904.7,347.5 905.6,347.6 906.5,347.3 907.4,348.0 908.3,348.4 909.3,348.1 910.2,348.2 911.1,348.4 912.0,348.7 912.9,348.4 913.9,348.9 914.8,348.6 915.7,349.1 916.6,349.2 917.5,348.9 918.5,349.5 919.4,349.5 920.3,349.1 921.2,349.6 922.1,349.6 923.1,349.7 924.0,350.1 924.9,349.9 925.8,350.2 926.7,350.0 927.7,350.2 928.6,350.7 929.5,350.5 930.4,350.2 931.3,350.3 932.3,350.5 933.2,350.3 934.1,350.9 935.0,350.7 935.9,350.8 936.9,350.8 937.8,350.7 938.7,350.7 939.6,350.4 940.5,350.7 941.5,351.1 942.4,351.2 943.3,351.1 944.2,350.9 945.1,351.2 946.1,351.3 947.0,351.1 947.9,351.6 948.8,351.2 949.7,351.4 950.7,351.3 951.6,351.6 952.5,351.3 953.4,351.4 954.3,351.7 955.3,351.4 956.2,351.5 957.1,351.7 958.0,351.7 958.9,351.4 959.9,351.7 960.8,351.6 961.7,351.8 962.6,351.4 963.5,351.8 964.5,351.8 965.4,351.7 966.3,351.7 967.2,351.8 968.1,351.7 969.1,351.7 970.0,351.7 970.9,351.8 971.8,351.9 972.7,351.6 973.7,351.8 974.6,351.9 975.5,352.1 976.4,351.8 977.3,352.1 978.3,351.9 979.2,352.0 980.1,352.0 981.0,352.0 981.9,351.9 982.9,351.9 983.8,352.2 984.7,352.2 985.6,352.0 986.5,352.0 987.5,352.0 988.4,351.9 989.3,351.9 990.2,352.1 991.1,352.2 992.1,352.1 993.0,352.0 993.9,352.0 994.8,352.1 995.7,352.2 996.7,352.2" stroke="#12e4e8" stroke-width="1.7"/>
</g>
<rect x="538.5" y="16.8" width="458.7" height="337.8" fill="none" stroke="#222" stroke-width="1.5"/>
<line x1="538.5" y1="354.6" x2="538.5" y2="361.6" stroke="#222" stroke-width="1.4"/>
<text transform="translate(538.5,384.7) scale(0.975,1.0)" font-size="24.0" text-anchor="middle">400</text>
<line x1="584.4" y1="354.6" x2="584.4" y2="358.4" stroke="#222" stroke-width="1.4"/>
<line x1="630.2" y1="354.6" x2="630.2" y2="361.6" stroke="#222" stroke-width="1.4"/>
<text transform="translate(630.2,384.7) scale(0.975,1.0)" font-size="24.0" text-anchor="middle">450</text>
<line x1="676.1" y1="354.6" x2="676.1" y2="358.4" stroke="#222" stroke-width="1.4"/>
<line x1="722.0" y1="354.6" x2="722.0" y2="361.6" stroke="#222" stroke-width="1.4"/>
<text transform="translate(722.0,384.7) scale(0.975,1.0)" font-size="24.0" text-anchor="middle">500</text>
<line x1="767.9" y1="354.6" x2="767.9" y2="358.4" stroke="#222" stroke-width="1.4"/>
<line x1="813.7" y1="354.6" x2="813.7" y2="361.6" stroke="#222" stroke-width="1.4"/>
<text transform="translate(813.7,384.7) scale(0.975,1.0)" font-size="24.0" text-anchor="middle">550</text>
<line x1="859.6" y1="354.6" x2="859.6" y2="358.4" stroke="#222" stroke-width="1.4"/>
<line x1="905.5" y1="354.6" x2="905.5" y2="361.6" stroke="#222" stroke-width="1.4"/>
<text transform="translate(905.5,384.7) scale(0.975,1.0)" font-size="24.0" text-anchor="middle">600</text>
<line x1="951.3" y1="354.6" x2="951.3" y2="358.4" stroke="#222" stroke-width="1.4"/>
<line x1="997.2" y1="354.6" x2="997.2" y2="361.6" stroke="#222" stroke-width="1.4"/>
<text transform="translate(997.2,384.7) scale(0.975,1.0)" font-size="24.0" text-anchor="middle">650</text>
<text class="b" transform="translate(769.0,409.1) scale(1.012,1.0)" font-size="27.4" text-anchor="middle">Wavelength (nm)</text>
<text class="b" transform="translate(530,190) rotate(-90) scale(1.0236,1.0)" font-size="27.7" text-anchor="middle">Fluorescent Intensity/ a.u.</text>
<text class="b" transform="translate(546.3,44.4)" font-size="20.5" text-anchor="start">B</text>
<text class="b" transform="translate(879.4,41.2) scale(1.119,1.0)" font-size="19.2" text-anchor="start">Visible-light</text>
<line x1="846.7" y1="65.4" x2="886" y2="65.4" stroke="#0a0aa2" stroke-width="1.6"/>
<text transform="translate(890.7,71.5) scale(1.078,1.0)" font-size="20.2" text-anchor="start">9T/P-LFO</text>
<line x1="846.7" y1="92.4" x2="886" y2="92.4" stroke="#12e4e8" stroke-width="1.6"/>
<text transform="translate(890.7,98.5) scale(1.078,1.0)" font-size="20.2" text-anchor="start">12T/P-LFO</text>
<line x1="846.7" y1="119.7" x2="886" y2="119.7" stroke="#14dc14" stroke-width="1.6"/>
<text transform="translate(890.7,125.8) scale(1.078,1.0)" font-size="20.2" text-anchor="start">6T/P-LFO</text>
<line x1="846.7" y1="147.1" x2="886" y2="147.1" stroke="#d80c0c" stroke-width="1.6"/>
<text transform="translate(890.7,153.2) scale(1.078,1.0)" font-size="20.2" text-anchor="start">3T/P-LFO</text>
<line x1="846.7" y1="174.6" x2="886" y2="174.6" stroke="#000000" stroke-width="1.6"/>
<text transform="translate(890.7,180.7) scale(1.078,1.0)" font-size="20.2" text-anchor="start">P-LFO</text>
<line x1="838.2" y1="64" x2="838.2" y2="177.2" stroke="#111" stroke-width="1.1"/>
<path d="M838.2 57.5 L835.6 67 L840.8 67 Z" fill="#111"/>
</g></svg></body></html>
